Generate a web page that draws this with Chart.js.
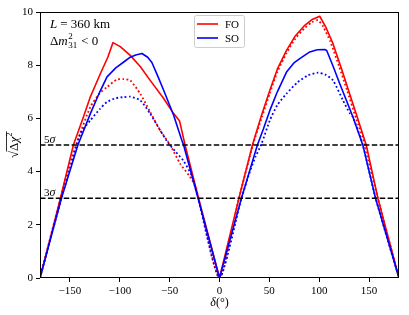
<!DOCTYPE html>
<html>
<head>
<meta charset="utf-8">
<script src="https://cdn.jsdelivr.net/npm/chart.js@4.4.0/dist/chart.umd.min.js"></script>
<style>
  html, body { margin: 0; padding: 0; background: #fff; }
</style>
</head>
<body>
<canvas id="chi2Chart" width="409" height="315"></canvas>
<script>
// --- Datos ---

// FO (linea continua roja)
const foDelta = [-180, -170, -159.5, -146.5, -137, -129.5, -119.5, -112, -106.8, -99.5, -89.5, -79.5, -69.5, -56, -46, -40, -34.5, -21, 0,
                 19.5, 33, 42, 50.5, 58, 67.2, 76, 85.5, 93, 100.5, 107, 113.8, 122, 130.5, 139, 147.2, 158.8, 180];
const foChi   = [0, 1.45, 3, 5, 6.0, 6.81, 7.68, 8.3, 8.85, 8.7, 8.37, 7.95, 7.43, 6.75, 6.18, 5.9, 4.99, 3, 0,
                 3, 5, 6.1, 7.06, 7.85, 8.56, 9.1, 9.5, 9.72, 9.84, 9.4, 8.81, 7.9, 6.93, 5.95, 4.99, 3, 0];

// FO (punteada roja)
const foDotDelta = [-180, -159.5, -150, -141, -129.5, -120, -112.8, -103, -96, -89.5, -79.5, -69.5, -59.5, -49.5, -39.5, -29.5, -24, -21, 0,
                    19.5, 33.5, 42.5, 50.5, 58, 67.2, 76, 85.5, 93, 98.8, 104, 111, 120, 128, 137, 146, 158.8, 180];
const foDotChi   = [0, 3, 4.3, 5.3, 6.43, 6.95, 7.18, 7.46, 7.48, 7.43, 6.93, 6.24, 5.55, 5.0, 4.3, 3.8, 3.45, 3, 0,
                    3, 5, 6.05, 6.95, 7.75, 8.45, 9.0, 9.4, 9.62, 9.69, 9.45, 8.9, 7.95, 7.05, 6.0, 5.0, 3, 0];

// SO (linea continua azul)
const soDelta = [-180, -158.5, -142, -129.5, -120, -112.8, -104, -96, -89.5, -84, -77.8, -72, -67.8, -62, -56, -46, -37.8, -36, -21.5, 0,
                 22, 38, 44, 50.5, 58, 67.2, 75, 80.5, 90.5, 98, 105.5, 107.5, 114, 120.5, 127, 133.8, 143.8, 156.5, 180];
const soChi   = [0, 3, 5, 6.18, 7.0, 7.56, 7.9, 8.12, 8.3, 8.38, 8.44, 8.3, 8.1, 7.6, 7.06, 6.12, 5.18, 5.0, 3, 0,
                 3, 5, 5.6, 6.3, 7.0, 7.74, 8.1, 8.25, 8.5, 8.58, 8.59, 8.55, 7.95, 7.31, 6.7, 6.05, 4.99, 3, 0];

// SO (punteada azul)
const soDotDelta = [-180, -158.5, -147, -139.5, -129.5, -120, -112.8, -104, -96, -89.5, -79.5, -69.5, -59.5, -51, -44, -36, -28, -24, -21.5, 0,
                    22, 30.5, 36, 42.2, 50.5, 58, 67.2, 78, 88.8, 98.8, 106, 113.8, 123.8, 130.5, 133.8, 143.8, 156.5, 180];
const soDotChi   = [0, 3, 4.5, 5.43, 5.93, 6.35, 6.62, 6.76, 6.8, 6.82, 6.68, 6.18, 5.55, 5.05, 4.75, 4.4, 3.86, 3.35, 3, 0,
                    3, 4.0, 4.55, 5.05, 5.93, 6.5, 6.93, 7.35, 7.62, 7.72, 7.65, 7.43, 6.68, 6.2, 6.05, 4.99, 3, 0];

// niveles de significancia
const sigmaLevels = [5, 3];
const sigmaNames  = ['5', '3'];

const xRange = [-180, 180];
const xTicks = [-150, -100, -50, 0, 50, 100, 150];
const yTicks = [0, 2, 4, 6, 8, 10];
const legendOrder = ['FO', 'SO'];

const serif = '"Liberation Serif", "DejaVu Serif", serif';

function toPoints(xs, ys) {
  return xs.map((v, i) => ({x: v, y: ys[i]}));
}

// --- Plugin: marco, textos, leyenda ---
const overlay = {
  id: 'overlay',
  afterDatasetsDraw(chart) {
    const {ctx, chartArea: a, scales: {x, y}} = chart;
    ctx.save();

    // etiquetas 5σ / 3σ
    ctx.fillStyle = '#000';
    ctx.textBaseline = 'alphabetic';
    sigmaLevels.forEach((lv, i) => {
      const yy = y.getPixelForValue(lv) - 2;
      ctx.font = '11px ' + serif;
      ctx.fillText(sigmaNames[i], a.left + 4, yy);
      const w = ctx.measureText(sigmaNames[i]).width;
      ctx.font = 'italic 12px ' + serif;
      ctx.fillText('σ', a.left + 4 + w, yy);
    });

    // L = 360 km
    let px = a.left + 10, py = 28;
    ctx.font = 'italic 13px ' + serif;
    ctx.fillText('L', px, py);
    px += ctx.measureText('L').width + 3;
    ctx.font = '13px ' + serif;
    ctx.fillText('= 360 km', px, py);

    // Δm²31 < 0
    px = a.left + 10; py = 45;
    ctx.font = '13px ' + serif;
    ctx.fillText('Δ', px, py);
    px += ctx.measureText('Δ').width;
    ctx.font = 'italic 13px ' + serif;
    ctx.fillText('m', px, py);
    px += ctx.measureText('m').width + 0.5;
    ctx.font = '9px ' + serif;
    ctx.fillText('2', px, py - 6);
    ctx.fillText('31', px, py + 3);
    px += ctx.measureText('31').width + 4;
    ctx.font = '13px ' + serif;
    ctx.fillText('< 0', px, py);

    // leyenda
    const lx = 194, ly = 15, lw = 50, lh = 32;
    ctx.fillStyle = 'rgba(255,255,255,0.8)';
    ctx.strokeStyle = '#cccccc';
    ctx.lineWidth = 1;
    ctx.beginPath();
    ctx.roundRect(lx + 0.5, ly + 0.5, lw, lh, 2);
    ctx.fill();
    ctx.stroke();
    legendOrder.forEach((name, i) => {
      const d = chart.data.datasets.find(ds => ds.label === name);
      const yy = ly + 9 + i * 14;
      ctx.strokeStyle = d.borderColor;
      ctx.lineWidth = 1.6;
      ctx.beginPath();
      ctx.moveTo(lx + 3, yy);
      ctx.lineTo(lx + 24, yy);
      ctx.stroke();
      ctx.fillStyle = '#000';
      ctx.font = '11px ' + serif;
      ctx.textBaseline = 'middle';
      ctx.fillText(d.label, lx + 31, yy + 1);
    });

    // marco
    ctx.strokeStyle = '#000';
    ctx.lineWidth = 1;
    ctx.strokeRect(Math.round(a.left) + 0.5, Math.round(a.top) + 0.5,
                   Math.round(a.right - a.left) - 1, Math.round(a.bottom - a.top) - 1);

    // titulo eje y: raiz de delta chi^2
    ctx.save();
    ctx.translate(15, (a.top + a.bottom) / 2);
    ctx.rotate(-Math.PI / 2);
    ctx.fillStyle = '#000';
    ctx.strokeStyle = '#000';
    ctx.textBaseline = 'alphabetic';
    ctx.font = '13px ' + serif;
    const wSq = ctx.measureText('√').width;
    const wDelta = ctx.measureText('Δ').width;
    ctx.font = 'italic 13px ' + serif;
    const wChi = ctx.measureText('χ').width;
    ctx.font = '8px ' + serif;
    const wSup = ctx.measureText('2').width;
    const total = wSq + wDelta + wChi + wSup + 1;
    let tx = -total / 2;
    const base = 3;
    ctx.font = '13px ' + serif;
    ctx.fillText('√', tx, base);
    tx += wSq;
    const barStart = tx - 0.5;
    ctx.fillText('Δ', tx, base);
    tx += wDelta;
    ctx.font = 'italic 13px ' + serif;
    ctx.fillText('χ', tx, base);
    tx += wChi;
    ctx.font = '8px ' + serif;
    ctx.fillText('2', tx + 0.5, base - 6);
    tx += wSup + 1.5;
    ctx.lineWidth = 0.8;
    ctx.beginPath();
    ctx.moveTo(barStart, base - 11.5);
    ctx.lineTo(tx, base - 11.5);
    ctx.stroke();
    ctx.restore();

    // titulo eje x: delta(°)
    ctx.fillStyle = '#000';
    ctx.textBaseline = 'alphabetic';
    const cx = x.getPixelForValue(0);
    ctx.font = 'italic 12px ' + serif;
    const wd = ctx.measureText('δ').width;
    ctx.font = '12px ' + serif;
    const wr = ctx.measureText('(°)').width;
    const sx = cx - (wd + wr) / 2;
    ctx.font = 'italic 12px ' + serif;
    ctx.fillText('δ', sx, 306);
    ctx.font = '12px ' + serif;
    ctx.fillText('(°)', sx + wd, 306);

    ctx.restore();
  }
};

// el primer dataset se dibuja encima
const datasets = [
  ...sigmaLevels.map(lv => ({
    label: lv + 'σ',
    data: [{x: xRange[0], y: lv}, {x: xRange[1], y: lv}],
    borderColor: '#000', borderWidth: 1.5, borderDash: [5.5, 2.4],
    pointRadius: 0
  })),
  {label: 'SO', data: toPoints(soDelta, soChi), borderColor: '#0000ff', borderWidth: 1.6,
   pointRadius: 0, tension: 0},
  {label: 'SO dotted', data: toPoints(soDotDelta, soDotChi), borderColor: '#0000ff', borderWidth: 1.8,
   borderDash: [1.8, 2.4], pointRadius: 0, tension: 0.2},
  {label: 'FO', data: toPoints(foDelta, foChi), borderColor: '#ff0000', borderWidth: 1.6,
   pointRadius: 0, tension: 0},
  {label: 'FO dotted', data: toPoints(foDotDelta, foDotChi), borderColor: '#ff0000', borderWidth: 1.8,
   borderDash: [1.8, 2.4], pointRadius: 0, tension: 0.2}
];

const ctx = document.getElementById('chi2Chart').getContext('2d');
new Chart(ctx, {
  type: 'line',
  data: {datasets},
  options: {
    responsive: false,
    animation: false,
    devicePixelRatio: 1,
    layout: {padding: {top: 12, right: 10, left: 0, bottom: 0}},
    plugins: {legend: {display: false}, tooltip: {enabled: false}},
    elements: {line: {borderCapStyle: 'butt', borderJoinStyle: 'round'}},
    scales: {
      x: {
        type: 'linear', min: xRange[0], max: xRange[1],
        afterBuildTicks: s => { s.ticks = xTicks.map(v => ({value: v})); },
        afterFit: s => { s.height = 37; },
        grid: {drawOnChartArea: false, drawTicks: true, tickLength: 4, color: '#000', tickWidth: 1},
        border: {display: false},
        ticks: {color: '#000', font: {family: serif, size: 11}, padding: 3, maxRotation: 0,
                callback: v => String(v).replace('-', '\u2212')}
      },
      y: {
        type: 'linear', min: 0, max: 10,
        afterBuildTicks: s => { s.ticks = yTicks.map(v => ({value: v})); },
        afterFit: s => { s.width = 40; },
        grid: {drawOnChartArea: false, drawTicks: true, tickLength: 4, color: '#000', tickWidth: 1},
        border: {display: false},
        ticks: {color: '#000', font: {family: serif, size: 11}, padding: 3}
      }
    }
  },
  plugins: [overlay]
});
</script>
</body>
</html>
